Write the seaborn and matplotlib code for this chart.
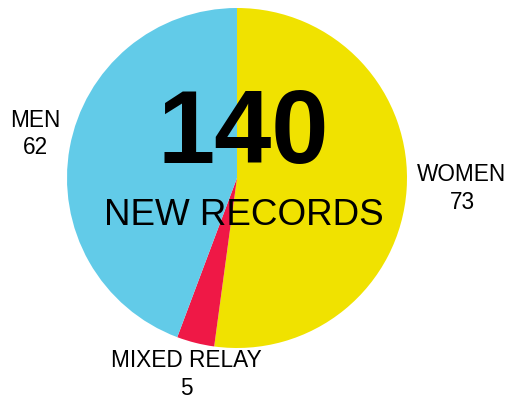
import matplotlib
matplotlib.use('Agg')
import matplotlib.pyplot as plt
import seaborn as sns

sns.set_theme(style='white')
plt.rcParams['font.family'] = ['Liberation Sans', 'DejaVu Sans']

categories = ['WOMEN', 'MIXED RELAY', 'MEN']
records = [73, 5, 62]
colors = ['#F0E200', '#EF1846', '#62CBE8']
total = sum(records)

fig = plt.figure(figsize=(5.11, 4.01), dpi=100)
ax = fig.add_axes([0, 0, 1, 1])

# pie in pixel-like data coords (y up)
ax.pie(records, colors=colors, startangle=90, counterclock=False,
       center=(237, 223), radius=170, frame=True,
       wedgeprops=dict(linewidth=0))
ax.set_xlim(0, 511)
ax.set_ylim(0, 401)
ax.axis('off')

ax.text(243, 401 - 163, str(total), ha='center', va='baseline',
        fontsize=74, fontweight='bold', color='black')
ax.text(244, 401 - 225, 'NEW RECORDS', ha='center', va='baseline',
        fontsize=26.5, color='black')

label_pos = {'WOMEN': (462, 188.5), 'MIXED RELAY': (186, 374.5), 'MEN': (35, 134)}
for cat, val in zip(categories, records):
    x, y = label_pos[cat]
    ax.text(x, 401 - y, f'{cat}\n{val}', ha='center', va='center',
            fontsize=16.3, color='black', linespacing=1.25)

fig.savefig('out.png', dpi=100)
